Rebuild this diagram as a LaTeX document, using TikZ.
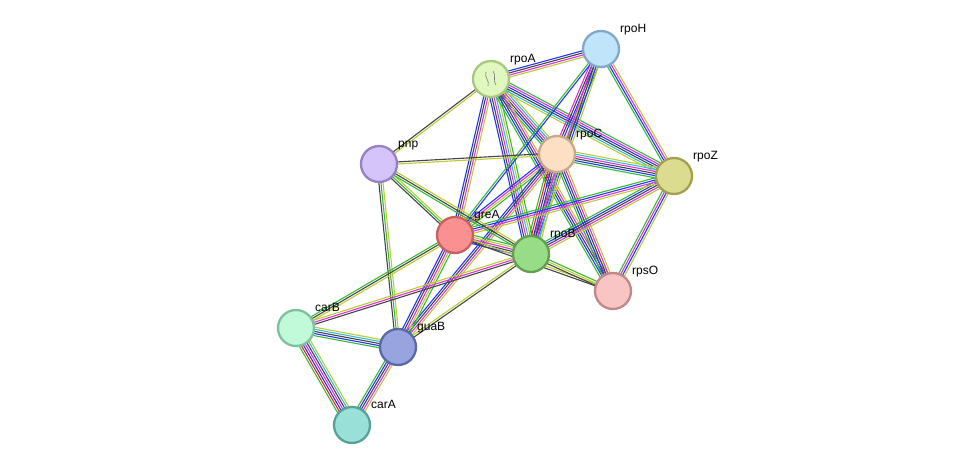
\documentclass[tikz,border=0pt]{standalone}
\usepackage{fontspec}
\setmainfont{Liberation Sans}
\usetikzlibrary{calc}
\definecolor{eg}{HTML}{33BB33}
\definecolor{eb}{HTML}{2233FF}
\definecolor{ek}{HTML}{444444}
\definecolor{em}{HTML}{DD33DD}
\definecolor{ec}{HTML}{33BBDD}
\definecolor{ey}{HTML}{BBCC33}
\definecolor{er}{HTML}{EE2222}
\newcommand{\myedge}[4]{%
  \foreach \c [count=\i] in {#4} {
    \pgfmathsetmacro{\off}{(\i-(#3+1)/2)*2.1}
    \draw[draw=\c, line width=1.1pt] ($(#1)!\off pt!90:(#2)$) -- ($(#2)!\off pt!-90:(#1)$);
  }}
\tikzset{
  prot/.style={circle, minimum size=36pt, inner sep=0pt, line width=2.3pt},
  lab/.style={font=\fontsize{12}{14}\selectfont, anchor=base west, inner sep=0pt}
}
\begin{document}
\begin{tikzpicture}[x=1pt,y=-1pt]
\useasboundingbox (0,0) rectangle (975,471);
\coordinate (rpoA) at (491,79);
\coordinate (rpoH) at (601,49);
\coordinate (rpoC) at (557,154);
\coordinate (rpoZ) at (674,176);
\coordinate (pnp) at (379,164);
\coordinate (greA) at (455,235);
\coordinate (rpoB) at (531,254);
\coordinate (rpsO) at (613,291);
\coordinate (carB) at (296,328);
\coordinate (guaB) at (398,347);
\coordinate (carA) at (352,425);
\myedge{rpoA}{rpoH}{4}{ey,em,ek,eb}
\myedge{rpoA}{rpoC}{6}{eg,eb,ek,em,ec,ey}
\myedge{rpoA}{rpoZ}{6}{ey,ec,ek,eb,em,eg}
\myedge{rpoA}{rpoB}{6}{eb,ek,em,ec,ey,eg}
\myedge{rpoA}{greA}{4}{eb,ek,em,ey}
\myedge{rpoA}{rpsO}{5}{eg,eb,ek,em,ey}
\myedge{rpoA}{pnp}{2}{ek,ey}
\myedge{rpoH}{rpoC}{5}{em,ek,eb,ey,eg}
\myedge{rpoH}{rpoZ}{4}{eg,eb,em,ey}
\myedge{rpoH}{rpoB}{4}{em,ek,eb,ey}
\myedge{rpoH}{greA}{2}{eg,eb}
\myedge{rpoC}{rpoZ}{6}{eg,eb,ek,em,ec,ey}
\myedge{rpoC}{rpoB}{7}{eg,er,eb,ek,em,ec,ey}
\myedge{rpoC}{rpsO}{5}{eg,eb,ek,em,ey}
\myedge{rpoC}{greA}{4}{eb,em,ey,eg}
\myedge{rpoC}{pnp}{2}{ek,ey}
\myedge{rpoC}{guaB}{4}{eb,ek,em,ey}
\myedge{rpoZ}{rpoB}{5}{eg,eb,ek,em,ey}
\myedge{rpoZ}{greA}{4}{eg,eb,em,ey}
\myedge{rpoZ}{rpsO}{4}{eg,em,eb,ey}
\myedge{pnp}{greA}{3}{ek,eg,ey}
\myedge{pnp}{rpoB}{3}{eg,ek,ey}
\myedge{pnp}{guaB}{3}{ek,eg,ey}
\myedge{greA}{rpoB}{5}{eb,ek,em,ey,eg}
\myedge{greA}{rpsO}{2}{ek,ey}
\myedge{greA}{carB}{3}{eg,ek,ey}
\myedge{greA}{guaB}{5}{eb,ek,em,ey,eg}
\myedge{rpoB}{rpsO}{3}{ek,ey,eg}
\myedge{rpoB}{carB}{3}{ey,em,ek}
\myedge{rpoB}{guaB}{2}{ey,ek}
\myedge{carB}{guaB}{5}{eg,eb,ek,ec,ey}
\myedge{carB}{carA}{7}{eg,er,eb,em,ek,ec,ey}
\myedge{guaB}{carA}{5}{eg,eb,ek,em,ey}
\node[prot, fill={rgb,255:red,224;green,248;blue,192}, draw={rgb,255:red,168;green,200;blue,128}] (nA) at (rpoA) {};
\draw[gray, line width=0.6pt] (486,72) .. controls (484,78) and (490,80) .. (488,86) (493,71) .. controls (497,76) and (492,80) .. (496,85);
\node[prot, fill={rgb,255:red,192;green,228;blue,250}, draw={rgb,255:red,128;green,168;blue,200}] (nH) at (rpoH) {};
\node[prot, fill={rgb,255:red,253;green,224;blue,196}, draw={rgb,255:red,200;green,168;blue,136}] (nC) at (rpoC) {};
\node[prot, fill={rgb,255:red,220;green,220;blue,144}, draw={rgb,255:red,160;green,160;blue,80}] (nZ) at (rpoZ) {};
\node[prot, fill={rgb,255:red,212;green,196;blue,250}, draw={rgb,255:red,152;green,128;blue,200}] (nP) at (pnp) {};
\node[prot, fill={rgb,255:red,250;green,144;blue,144}, draw={rgb,255:red,200;green,96;blue,96}] (nG) at (greA) {};
\node[prot, fill={rgb,255:red,152;green,220;blue,136}, draw={rgb,255:red,96;green,160;blue,80}] (nB) at (rpoB) {};
\node[prot, fill={rgb,255:red,248;green,196;blue,196}, draw={rgb,255:red,192;green,136;blue,136}] (nS) at (rpsO) {};
\node[prot, fill={rgb,255:red,192;green,250;blue,216}, draw={rgb,255:red,128;green,192;blue,160}] (nCB) at (carB) {};
\node[prot, fill={rgb,255:red,152;green,164;blue,224}, draw={rgb,255:red,88;green,104;blue,168}] (nGu) at (guaB) {};
\node[prot, fill={rgb,255:red,152;green,224;blue,216}, draw={rgb,255:red,88;green,160;blue,152}] (nCA) at (carA) {};
\node[lab] (lA) at ($(rpoA)+(19,-17)$) {rpoA};
\node[lab] (lH) at ($(rpoH)+(19,-17)$) {rpoH};
\node[lab] (lC) at ($(rpoC)+(19,-17)$) {rpoC};
\node[lab] (lZ) at ($(rpoZ)+(19,-17)$) {rpoZ};
\node[lab] (lP) at ($(pnp)+(19,-17)$) {pnp};
\node[lab] (lG) at ($(greA)+(19,-17)$) {greA};
\node[lab] (lB) at ($(rpoB)+(19,-17)$) {rpoB};
\node[lab] (lS) at ($(rpsO)+(19,-17)$) {rpsO};
\node[lab] (lCB) at ($(carB)+(19,-17)$) {carB};
\node[lab] (lGu) at ($(guaB)+(19,-17)$) {guaB};
\node[lab] (lCA) at ($(carA)+(19,-17)$) {carA};
\end{tikzpicture}
\end{document}
